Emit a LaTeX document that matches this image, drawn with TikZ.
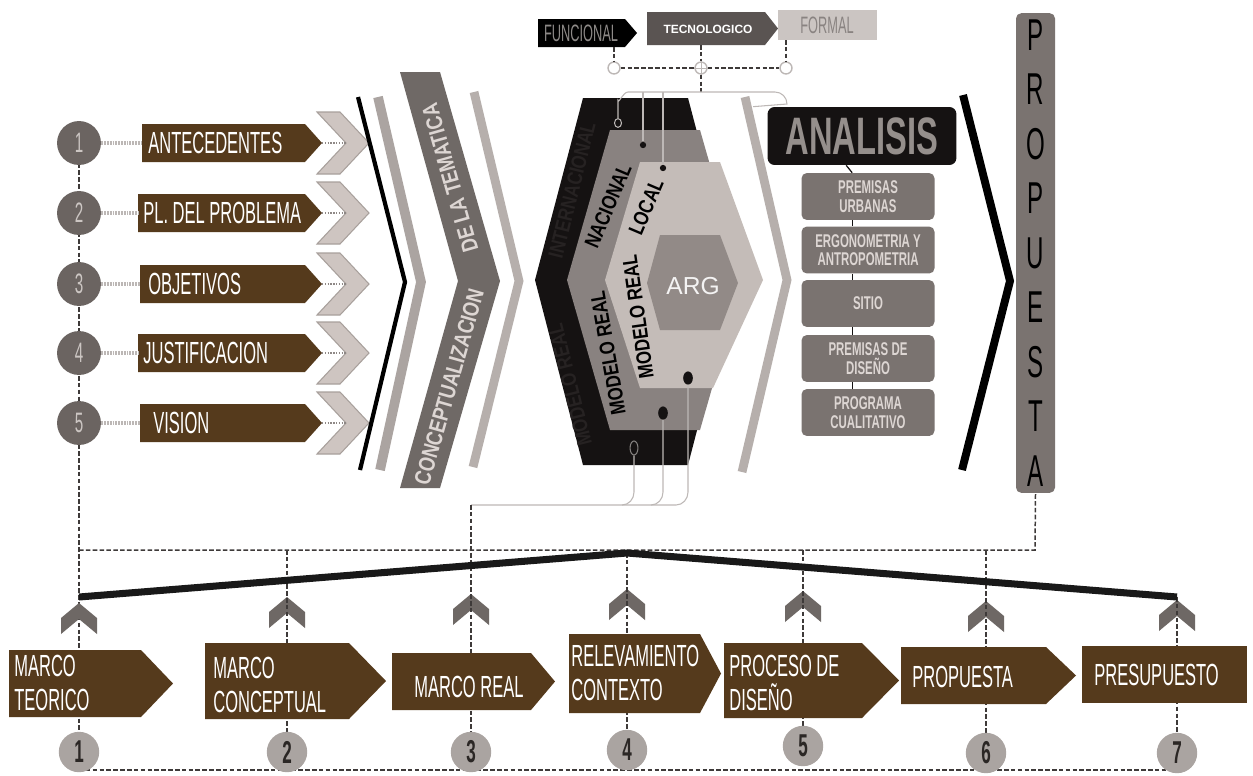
\documentclass[tikz,border=0pt]{standalone}
\usepackage{fontspec}
\usetikzlibrary{shapes.geometric}
\setmainfont{Liberation Sans}
\newfontfamily\cond[FakeStretch=0.54]{Liberation Sans}
\newfontfamily\condw[FakeStretch=0.62]{Liberation Sans}
\newfontfamily\condm[FakeStretch=0.8]{Liberation Sans}
\newcommand\myfs[2]{\fontsize{#1}{#2}\selectfont}
\definecolor{brn}{HTML}{553A1C}
\definecolor{lcg}{HTML}{6B6461}
\definecolor{lct}{HTML}{CCC6C3}
\definecolor{chl}{HTML}{CEC5C1}
\definecolor{chd}{HTML}{A8A09C}
\definecolor{bandg}{HTML}{6F6966}
\definecolor{band2}{HTML}{ABA4A1}
\definecolor{band3}{HTML}{B6AFAC}
\definecolor{hxk}{HTML}{151212}
\definecolor{hxm}{HTML}{898280}
\definecolor{hxl}{HTML}{C4BCB8}
\definecolor{hxi}{HTML}{928A87}
\definecolor{subg}{HTML}{7A7370}
\definecolor{subt}{HTML}{DDD6D3}
\definecolor{anat}{HTML}{958F8C}
\definecolor{dk}{HTML}{3E3A39}
\definecolor{bcg}{HTML}{AAA4A1}
\definecolor{bct}{HTML}{2B2725}
\definecolor{chv}{HTML}{6E6865}
\definecolor{thn}{HTML}{BDB8B6}
\definecolor{dotg}{HTML}{BCB7B5}
\definecolor{dotd}{HTML}{8E8886}
\definecolor{tecg}{HTML}{5A5452}
\definecolor{forg}{HTML}{CBC5C2}
\definecolor{fort}{HTML}{898381}
\definecolor{funt}{HTML}{8E8A88}
\definecolor{faint}{HTML}{262222}
\begin{document}
\begin{tikzpicture}[x=0.02cm,y=-0.02cm,line join=miter,
  lc/.style={circle,fill=lcg,minimum size=25pt,inner sep=0pt,text=lct,font=\cond\myfs{16}{16}},
  bc/.style={circle,fill=bcg,minimum size=23pt,inner sep=0pt,text=bct,font=\cond\bfseries\myfs{18}{18}},
  btxt/.style={anchor=west,inner sep=0pt,text=white,font=\cond\myfs{17.4}{19},align=left},
  hx/.style={text=black,inner sep=0pt,font=\condm\bfseries\myfs{12}{12}},
  hxf/.style={text=faint,inner sep=0pt,font=\condm\bfseries\myfs{12}{12}},
  subbox/.style={rectangle,rounded corners=3pt,fill=subg,minimum width=75.7pt,minimum height=26.7pt,inner sep=0pt,align=center,text=subt,font=\condw\bfseries\myfs{10.5}{10.5}},
  dsh/.style={draw=dk,line width=0.85pt,dash pattern=on 2.6pt off 1.3pt},
  dotl/.style={draw=dotg,line width=2.2pt,dash pattern=on 1pt off 0.6pt},
  dott/.style={draw=dotd,line width=1.2pt,dash pattern=on 0.8pt off 0.8pt},
  thinl/.style={draw=thn,line width=0.6pt},
  kc/.style={circle,draw=thn,fill=white,line width=0.8pt,minimum size=6.8pt,inner sep=0pt},
  upchev/.style={fill=chv}]
\useasboundingbox (0,0) rectangle (1253,775);
\fill[white] (0,0) rectangle (1253,775);

% ---------- column coordinates ----------
\coordinate (top1) at (79,550);
\coordinate (top2) at (287,550);
\coordinate (top3) at (471,505);
\coordinate (top4) at (627,553);
\coordinate (top5) at (803,550);
\coordinate (top6) at (986,550);
\coordinate (top7) at (1177,597);
\coordinate (q1) at (79,752);
\coordinate (q2) at (287,752);
\coordinate (q3) at (471,752);
\coordinate (q4) at (627,750);
\coordinate (q5) at (803,746);
\coordinate (q6) at (986,753);
\coordinate (q7) at (1177,753);
\coordinate (bot1) at (79,770);
\coordinate (bot7) at (1177,770);

% ---------- left column ----------
\foreach \n/\y in {1/143,2/213,3/284,4/353,5/423}{\coordinate (p\n) at (79,\y);}
\draw[dsh] (p1) -- (p5) -- (q1);

\foreach \n/\y/\L in {1/143/142,2/213/138,3/284/140,4/353/138,5/423/140}{
  \fill[chl,draw=chd,line width=0.6pt] (317,\y-31) -- (340,\y-31) -- (369,\y) -- (340,\y+31) -- (317,\y+31) -- (346,\y) -- cycle;
  \fill[brn] (\L,\y-19) -- (305,\y-19) -- (322,\y) -- (305,\y+19) -- (\L,\y+19) -- cycle;
  \coordinate (bl\n) at (\L,\y);
  \coordinate (bt\n) at (322,\y);
  \coordinate (ch\n) at (346,\y);
  \node[lc] (c\n) at (p\n) {\n};
  \draw[dotl] (c\n.east) -- (bl\n);
  \draw[dott] (bt\n) -- (ch\n);
}
\node[btxt] (b1) at (148,143) {ANTECEDENTES};
\node[btxt] (b2) at (143,213) {PL. DEL PROBLEMA};
\node[btxt] (b3) at (148,284) {OBJETIVOS};
\node[btxt] (b4) at (143,353) {JUSTIFICACION};
\node[btxt] (b5) at (153,423) {VISION};

% chevron lines
\draw[black,line width=2.4pt] (358,97) -- (405,282) -- (360,470);
\draw[band2,line width=5.5pt] (378,97) -- (421,282) -- (380,470);

% conceptualizacion band
\fill[bandg] (400,72) -- (440,72) -- (500,281) -- (440,488) -- (400,488) -- (458,281) -- cycle;
\node[text=subt,inner sep=0pt,font=\condm\bfseries\myfs{13}{13},rotate=105.9] (tema) at (450,178) {DE LA TEMATICA};
\node[text=subt,inner sep=0pt,font=\condm\bfseries\myfs{13}{13},rotate=74.1] (conc) at (449,387) {CONCEPTUALIZACION};
\draw[band3,line width=5pt] (474,92) -- (519,281) -- (473,467);

% ---------- hexagon stack ----------
\fill[hxk] (583,98) -- (688,98) -- (736,280) -- (688,465) -- (583,465) -- (535,280) -- cycle;
\fill[hxm] (610,130) -- (700,130) -- (743,280) -- (700,430) -- (610,430) -- (567,280) -- cycle;
\fill[hxl] (640,162) -- (720,162) -- (763,280) -- (713,388) -- (640,388) -- (605,280) -- cycle;
\fill[hxi] (660,235) -- (720,235) -- (738,283) -- (720,330) -- (660,330) -- (647,283) -- cycle;
\node[text=white!90!hxi,inner sep=0pt,font=\myfs{14}{14}] (arg) at (693,286) {ARG};
\node[hxf,rotate=76] (inter) at (572,190) {INTERNACIONAL};
\node[hxf,rotate=104] (mr0) at (570,385) {MODELO REAL};
\node[hx,rotate=67] (nac) at (608,206) {NACIONAL};
\node[hx,rotate=67] (loc) at (646,207) {LOCAL};
\node[hx,rotate=100] (mr1) at (608,353) {MODELO REAL};
\node[hx,rotate=98] (mr2) at (638,317) {MODELO REAL};

% dots
\node[ellipse,draw=thn,line width=0.6pt,minimum width=4pt,minimum height=5pt,inner sep=0pt] (d1) at (618,123) {};
\node[circle,fill=hxk,minimum size=3.6pt,inner sep=0pt] (d2) at (643,145) {};
\node[circle,fill=hxk,minimum size=3.6pt,inner sep=0pt] (d3) at (663,168) {};
\node[ellipse,fill=hxk,minimum width=5.5pt,minimum height=7.5pt,inner sep=0pt] (d4) at (688,378) {};
\node[ellipse,fill=hxk,minimum width=5.5pt,minimum height=7.5pt,inner sep=0pt] (d5) at (663,413) {};
\node[ellipse,draw=thn!70!black,line width=0.6pt,minimum width=4.5pt,minimum height=8pt,inner sep=0pt] (d6) at (634,448) {};

% ---------- top banners ----------
\fill[black] (538,19) -- (625,19) -- (637,33) -- (625,47) -- (538,47) -- cycle;
\node[text=funt,inner sep=0pt,font=\cond\myfs{13.5}{13.5}] (fun) at (581,33) {FUNCIONAL};
\fill[tecg] (647,12) -- (765,12) -- (778,28.5) -- (765,45) -- (647,45) -- cycle;
\node[text=white,inner sep=0pt,font=\bfseries\myfs{6.8}{6.8}] (tec) at (708,29) {TECNOLOGICO};
\fill[forg] (778,10) rectangle (877,40);
\node[text=fort,inner sep=0pt,font=\cond\myfs{13.5}{13.5}] (for) at (827,25) {FORMAL};
\coordinate (funb) at (614,47);
\coordinate (tecb) at (701,45);
\coordinate (forb) at (786,40);
\coordinate (hexjoin) at (701,92);
\node[kc] (k1) at (614,68) {};
\node[kc] (k2) at (701,68) {};
\node[kc] (k3) at (786,68) {};
\draw[dsh] (funb) -- (k1);
\draw[dsh] (tecb) -- (k2);
\draw[dsh] (forb) -- (k3);
\draw[dsh] (k1) -- (k2) -- (k3);
\draw[dsh] (k2) -- (hexjoin);
\draw[thn,line width=0.5pt] (k2.north) -- (k2.south) (k2.west) -- (k2.east);

% ---------- analisis ----------
\node[rectangle,rounded corners=4pt,fill=hxk,minimum width=107.5pt,minimum height=33pt,inner sep=0pt,text=anat,font=\condw\bfseries\myfs{30}{30}] (an) at (862,136) {ANALISIS};
\node[subbox] (s1) at (868,196.5) {PREMISAS\\URBANAS};
\node[subbox] (s2) at (868,250) {ERGONOMETRIA Y\\ANTROPOMETRIA};
\node[subbox] (s3) at (868,303.5) {SITIO};
\node[subbox] (s4) at (868,358.5) {PREMISAS DE\\DISEÑO};
\node[subbox] (s5) at (868,412.5) {PROGRAMA\\CUALITATIVO};
\draw[hxk,line width=0.7pt] ([xshift=-9pt]an.south) -- ([xshift=-9pt]s1.north);
\draw[hxk,line width=0.7pt] ([xshift=-9pt]s1.south) -- ([xshift=-9pt]s2.north);
\draw[hxk,line width=0.7pt] ([xshift=-9pt]s2.south) -- ([xshift=-9pt]s3.north);
\draw[hxk,line width=0.7pt] ([xshift=-9pt]s3.south) -- ([xshift=-9pt]s4.north);
\draw[hxk,line width=0.7pt] ([xshift=-9pt]s4.south) -- ([xshift=-9pt]s5.north);

% thin connector lines of hexagons
\draw[thinl] (d1.north) -- (618,100) to[out=-90,in=180] (628,92) -- (hexjoin) -- (775,92) to[out=0,in=90] (787,104) -- ([xshift=-8pt]an.north west);
\draw[thinl] (d2.north) -- (643,92);
\draw[thinl] (d3.north) -- (663,92);
\draw[thinl] (d6.south) -- (634,492) to[out=-90,in=0] (622,505);
\draw[thinl] (d5.south) -- (663,492) to[out=-90,in=0] (651,505);
\draw[thinl] (d4.south) -- (688,492) to[out=-90,in=0] (676,505) -- (top3);
\draw[band3,line width=5pt] (745,97) -- (787,280) -- (742,472);

% black chevron + propuesta
\draw[black,line width=4.5pt] (963,95) -- (1010,281) -- (962,470);
\node[rectangle,rounded corners=3pt,fill=subg,minimum width=22.2pt,minimum height=273pt,inner sep=0pt,align=center,text=black,font=\cond\myfs{25.4}{31}] (prop) at (1035.5,253) {P\\R\\O\\P\\U\\E\\S\\T\\A};

% ---------- bottom ----------
\foreach \x/\t in {79/603,287/597,471/594,627/589,803/591,986/601,1177/600}{
  \fill[upchev] (\x,\t) -- (\x+18,\t+15) -- (\x+18,\t+31) -- (\x,\t+16) -- (\x-18,\t+31) -- (\x-18,\t+15) -- cycle;
}
\draw[dsh] (top1) -- (1035,550) -- (prop.south);
\draw[dsh] (top2) -- (q2);
\draw[dsh] (top3) -- (q3);
\draw[dsh] (top4) -- (q4);
\draw[dsh] (top5) -- (q5);
\draw[dsh] (top6) -- (q6);
\draw[dsh] (top7) -- (q7);
\draw[dsh] (bot1) -- (bot7);
\draw[line width=4pt,black!90] (79,597) -- (top4) -- (top7);

\fill[brn] (9,650) -- (141,650) -- (173,683.5) -- (141,717) -- (9,717) -- cycle;
\fill[brn] (205,643) -- (349,643) -- (386,681) -- (349,719) -- (205,719) -- cycle;
\fill[brn] (392,653) -- (531,653) -- (555,681.5) -- (531,710) -- (392,710) -- cycle;
\fill[brn] (569,634) -- (700,634) -- (721,673.5) -- (700,713) -- (569,713) -- cycle;
\fill[brn] (724,643) -- (862,643) -- (899,680.5) -- (862,718) -- (724,718) -- cycle;
\fill[brn] (901,647) -- (1046,647) -- (1076,675.5) -- (1046,704) -- (901,704) -- cycle;
\fill[brn] (1082,646) rectangle (1247,703);
\node[btxt] (m1) at (14,683) {MARCO\\TEORICO};
\node[btxt] (m2) at (213,685) {MARCO\\CONCEPTUAL};
\node[btxt] (m3) at (414,687) {MARCO REAL};
\node[btxt] (m4) at (571,673) {RELEVAMIENTO\\CONTEXTO};
\node[btxt] (m5) at (729,683) {PROCESO DE\\DISEÑO};
\node[btxt] (m6) at (912,677) {PROPUESTA};
\node[btxt] (m7) at (1094,675) {PRESUPUESTO};

\foreach \n in {1,...,7}{\node[bc] (n\n) at (q\n) {\n};}
\end{tikzpicture}
\end{document}
